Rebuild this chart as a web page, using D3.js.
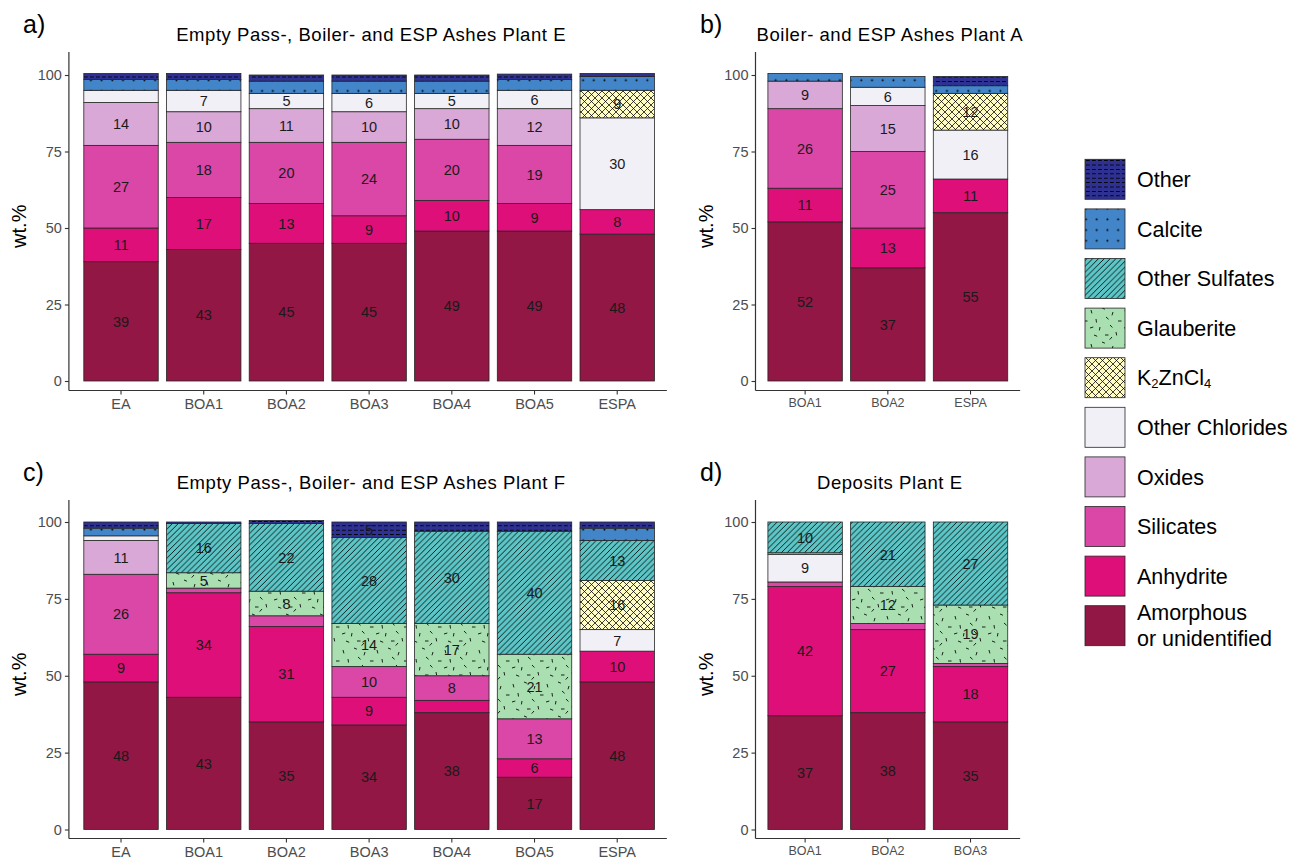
<!DOCTYPE html>
<html>
<head>
<meta charset="utf-8">
<script src="https://cdn.jsdelivr.net/npm/d3@7/dist/d3.min.js"></script>
<style>
  html, body { margin: 0; padding: 0; background: #fff; }
  svg { display: block; font-family: "Liberation Sans", Arial, Helvetica, sans-serif; }
</style>
</head>
<body>
<svg id="chart" width="1296" height="861"></svg>
<script>
// Phase categories, stacked from the bottom up
const phases = ["Amorphous or unidentified", "Anhydrite", "Silicates", "Oxides", "Other Chlorides",
                "K2ZnCl4", "Glauberite", "Other Sulfates", "Calcite", "Other"];
const phaseColors = ["#921745", "#de0f78", "#db47a6", "#d9a8d6", "#f2f0f7",
                     "#fffcc4", "#a9dfb1", "#5cc5c6", "#4285c8", "#2e3192"];
const yTicks = [0, 25, 50, 75, 100];

// a) Empty pass-, boiler- and ESP ashes, plant E (wt.% per phase, same order as phases)
const samplesA = ["EA", "BOA1", "BOA2", "BOA3", "BOA4", "BOA5", "ESPA"];
const valuesA = [
  [39, 11, 27, 14, 4, 0, 0, 0, 3.5, 2],
  [43, 17, 18, 10, 7, 0, 0, 0, 3.5, 2],
  [45, 13, 20, 11, 5, 0, 0, 0, 4, 2],
  [45, 9, 24, 10, 6, 0, 0, 0, 4, 2],
  [49, 10, 20, 10, 5, 0, 0, 0, 4, 2],
  [49, 9, 19, 12, 6, 0, 0, 0, 3.5, 1.8],
  [48, 8, 0, 0, 30, 9, 0, 0, 4.5, 1]
];

// b) Boiler- and ESP ashes, plant A
const samplesB = ["BOA1", "BOA2", "ESPA"];
const valuesB = [
  [52, 11, 26, 9, 0, 0, 0, 0, 2.5, 0],
  [37, 13, 25, 15, 6, 0, 0, 0, 3.5, 0],
  [55, 11, 0, 0, 16, 12, 0, 0, 2.5, 3]
];

// c) Empty pass-, boiler- and ESP ashes, plant F
const samplesC = ["EA", "BOA1", "BOA2", "BOA3", "BOA4", "BOA5", "ESPA"];
const valuesC = [
  [48, 9, 26, 11, 1.5, 0, 0, 0, 2.5, 2],
  [43, 34, 1.5, 0, 0, 0, 5, 16, 0, 0.5],
  [35, 31, 3.5, 0, 0, 0, 8, 22, 0, 1],
  [34, 9, 10, 0, 0, 0, 14, 28, 0, 5],
  [38, 4, 8, 0, 0, 0, 17, 30, 0, 3],
  [17, 6, 13, 0, 0, 0, 21, 40, 0, 3],
  [48, 10, 0, 0, 7, 16, 0, 13, 4, 2]
];

// d) Deposits, plant E
const samplesD = ["BOA1", "BOA2", "BOA3"];
const valuesD = [
  [37, 42, 1.5, 0, 9, 0, 0.5, 10, 0, 0],
  [38, 27, 2, 0, 0, 0, 12, 21, 0, 0],
  [35, 18, 1, 0, 0, 0, 19, 27, 0, 0]
];

const svg = d3.select("#chart");
const defs = svg.append("defs");

// ---- fill patterns drawn over the base colours ----
function addPattern(id, w, h, draw) {
  const p = defs.append("pattern").attr("id", id)
    .attr("patternUnits", "userSpaceOnUse").attr("width", w).attr("height", h);
  draw(p);
}
addPattern("pat-other", 6, 4.4, p => {
  p.append("line").attr("x1", 0).attr("x2", 3.8).attr("y1", 2.2).attr("y2", 2.2)
    .attr("stroke", "#000").attr("stroke-width", 0.9);
});
addPattern("pat-calcite", 10.7, 10.7, p => {
  p.append("circle").attr("cx", 5.3).attr("cy", 5.3).attr("r", 1).attr("fill", "#000");
});
addPattern("pat-sulfate", 5.8, 5.8, p => {
  p.append("path").attr("d", "M0,5.8L5.8,0M-1,1L1,-1M4.8,6.8L6.8,4.8")
    .attr("stroke", "#000").attr("stroke-width", 0.85);
});
addPattern("pat-k2", 7, 7, p => {
  p.append("path").attr("d", "M0,7L7,0M-1,1L1,-1M6,8L8,6M0,0L7,7M-1,6L1,8M6,-1L8,1")
    .attr("stroke", "#000").attr("stroke-width", 0.75);
});
addPattern("pat-glaub", 34, 34, p => {
  const dashes = [
    [3, 4, 0.9, 3.4], [14, 2, 2.9, 1.2], [25, 6, -1, 3.3], [30, 15, 3.5, 0],
    [8, 13, 0.5, 3.5], [18, 11, 2.6, 2.3], [2, 22, 3.3, -1], [12, 21, -0.6, 3.4],
    [22, 19, 2.4, 2.5], [28, 26, 0.7, 3.4], [6, 29, 3.2, 1.3], [17, 29, 3.5, 0],
    [24, 31, -2.3, 2.6]
  ];
  dashes.forEach(d => p.append("line")
    .attr("x1", d[0]).attr("y1", d[1]).attr("x2", d[0] + d[2]).attr("y2", d[1] + d[3])
    .attr("stroke", "#000").attr("stroke-width", 0.85));
});
const phasePatterns = [null, null, null, null, null, "pat-k2", "pat-glaub", "pat-sulfate", "pat-calcite", "pat-other"];

// ---- one stacked-bar panel ----
function drawPanel(cfg) {
  const g = svg.append("g");
  const x = d3.scaleBand().domain(cfg.samples).range([cfg.left, cfg.right])
    .paddingInner(0.1).paddingOuter(0.15);
  const y = d3.scaleLinear().domain([0, 100]).range([cfg.y0, cfg.y100]);
  const axisX = cfg.left - cfg.axisShift;

  cfg.samples.forEach((s, i) => {
    const vals = cfg.values[i];
    let cum = 0;
    vals.forEach((v, k) => {
      if (v <= 0) return;
      const lo = cum, hi = cum + v;
      cum = hi;
      const rx = x(s), rw = x.bandwidth();
      const ry = y(hi), rh = y(lo) - y(hi);
      g.append("rect").attr("x", rx).attr("y", ry).attr("width", rw).attr("height", rh)
        .attr("fill", phaseColors[k]);
      if (phasePatterns[k]) {
        g.append("rect").attr("x", rx).attr("y", ry).attr("width", rw).attr("height", rh)
          .attr("fill", `url(#${phasePatterns[k]})`);
      }
      g.append("rect").attr("x", rx).attr("y", ry).attr("width", rw).attr("height", rh)
        .attr("fill", "none").attr("stroke", "#262626").attr("stroke-width", 0.8);
    });
    // value labels
    cum = 0;
    vals.forEach((v) => {
      const lo = cum, hi = cum + v;
      cum = hi;
      if (v >= 5) {
        g.append("text").attr("x", x(s) + x.bandwidth() / 2).attr("y", y((lo + hi) / 2))
          .attr("dy", "0.36em").attr("text-anchor", "middle")
          .attr("font-size", 14.5).attr("fill", "#1a1a1a").text(Math.round(v));
      }
    });
  });

  // axes
  const yAxis = g.append("g").attr("transform", `translate(${axisX},0)`)
    .call(d3.axisLeft(y).tickValues(yTicks).tickSize(4).tickPadding(3));
  const xAxis = g.append("g").attr("transform", `translate(0,${cfg.bottom})`)
    .call(d3.axisBottom(x).tickSize(4).tickPadding(cfg.xPad));
  [yAxis, xAxis].forEach(a => {
    a.select(".domain").remove();
    a.selectAll(".tick line").attr("stroke", "#333").attr("stroke-width", 1.1);
    a.selectAll(".tick text").attr("fill", "#4d4d4d").attr("font-family", null);
  });
  yAxis.selectAll(".tick text").attr("font-size", 14.5);
  xAxis.selectAll(".tick text").attr("font-size", cfg.xFont);
  g.append("line").attr("x1", axisX).attr("x2", axisX).attr("y1", cfg.top).attr("y2", cfg.bottom)
    .attr("stroke", "#333").attr("stroke-width", 1.2);
  g.append("line").attr("x1", axisX).attr("x2", cfg.right).attr("y1", cfg.bottom).attr("y2", cfg.bottom)
    .attr("stroke", "#333").attr("stroke-width", 1.2);

  // titles and labels
  g.append("text").attr("x", (cfg.left + cfg.right) / 2 + 2).attr("y", cfg.top - 11)
    .attr("text-anchor", "middle").attr("font-size", 18.5).attr("letter-spacing", 0.55)
    .attr("fill", "#000").text(cfg.title);
  g.append("text").attr("x", cfg.tagX).attr("y", cfg.top - 19)
    .attr("font-size", 25).attr("fill", "#000").text(cfg.tag);
  g.append("text")
    .attr("transform", `translate(${axisX - 50},${(cfg.top + cfg.bottom) / 2 + 5}) rotate(-90)`)
    .attr("text-anchor", "middle").attr("dy", "0.36em").attr("font-size", 20).attr("fill", "#000")
    .text("wt.%");
}

const stepPx = 82.7;
drawPanel({ samples: samplesA, values: valuesA, left: 71.4, right: 71.4 + 7.2 * stepPx, axisShift: 2.5,
  top: 52, bottom: 390.5, y0: 381, y100: 75, title: "Empty Pass-, Boiler- and ESP Ashes Plant E",
  tag: "a)", tagX: 23, xFont: 14.5, xPad: 4 });
drawPanel({ samples: samplesB, values: valuesB, left: 755.5, right: 755.5 + 3.2 * stepPx, axisShift: 0,
  top: 52, bottom: 390.5, y0: 381, y100: 75, title: "Boiler- and ESP Ashes Plant A",
  tag: "b)", tagX: 700, xFont: 12.5, xPad: 4 });
drawPanel({ samples: samplesC, values: valuesC, left: 71.4, right: 71.4 + 7.2 * stepPx, axisShift: 2.5,
  top: 500, bottom: 838.5, y0: 829.5, y100: 522, title: "Empty Pass-, Boiler- and ESP Ashes Plant F",
  tag: "c)", tagX: 23, xFont: 14.5, xPad: 4 });
drawPanel({ samples: samplesD, values: valuesD, left: 755.5, right: 755.5 + 3.2 * stepPx, axisShift: 0,
  top: 500, bottom: 838.5, y0: 829.5, y100: 522, title: "Deposits Plant E",
  tag: "d)", tagX: 700, xFont: 12.5, xPad: 4 });

// ---- legend (top entry = top of the stack) ----
const legend = svg.append("g");
const legendOrder = d3.range(phases.length).reverse();
legendOrder.forEach((k, i) => {
  const ky = 159.3 + i * 49.6;
  legend.append("rect").attr("x", 1085).attr("y", ky).attr("width", 40).attr("height", 40)
    .attr("fill", phaseColors[k]);
  if (phasePatterns[k]) {
    legend.append("rect").attr("x", 1085).attr("y", ky).attr("width", 40).attr("height", 40)
      .attr("fill", `url(#${phasePatterns[k]})`);
  }
  legend.append("rect").attr("x", 1085).attr("y", ky).attr("width", 40).attr("height", 40)
    .attr("fill", "none").attr("stroke", "#262626").attr("stroke-width", 0.8);
  const t = legend.append("text").attr("x", 1137).attr("font-size", 21.5).attr("fill", "#000");
  const name = phases[k];
  if (name === "K2ZnCl4") {
    t.attr("y", ky + 20).attr("dy", "0.36em");
    t.append("tspan").text("K");
    t.append("tspan").attr("font-size", 13).attr("dy", 3).text("2");
    t.append("tspan").attr("dy", -3).text("ZnCl");
    t.append("tspan").attr("font-size", 13).attr("dy", 3).text("4");
  } else if (name === "Amorphous or unidentified") {
    t.attr("y", ky + 7).attr("dy", "0.36em");
    t.append("tspan").attr("x", 1137).text("Amorphous");
    t.append("tspan").attr("x", 1137).attr("dy", 26).text("or unidentified");
  } else {
    t.attr("y", ky + 20).attr("dy", "0.36em").text(name);
  }
});
</script>
</body>
</html>
